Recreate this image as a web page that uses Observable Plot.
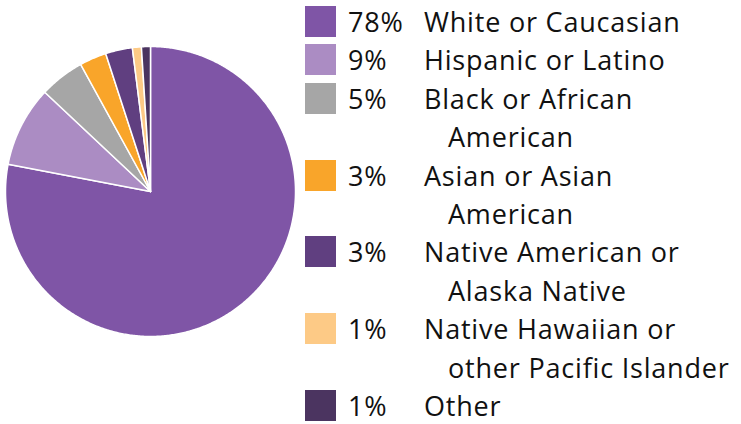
<!DOCTYPE html>
<html>
<head>
<meta charset="utf-8">
<script src="https://cdn.jsdelivr.net/npm/d3@7"></script>
<script src="https://cdn.jsdelivr.net/npm/@observablehq/plot@0.6"></script>
<style>
  html, body { margin: 0; padding: 0; background: #fff; }
  #wrap { position: relative; width: 741px; height: 424px; overflow: hidden; }
  #pie { position: absolute; left: 0; top: 0; }
  #legend { position: absolute; left: 305px; top: 3px; font-family: "Open Sans", sans-serif; font-size: 27px; letter-spacing: 0.8px; line-height: 38.4px; color: #111; }
  .row { display: flex; align-items: flex-start; }
  .sw { width: 31px; height: 31px; margin-top: 3px; flex: none; }
  .pct { width: 76px; margin-left: 12px; flex: none; }
  .lab { white-space: pre-line; padding-left: 24px; text-indent: -24px; }
</style>
</head>
<body>
<div id="wrap"><div id="pie"></div><div id="legend"></div></div>
<script>
const categories = ["White or Caucasian", "Hispanic or Latino", "Black or African\nAmerican", "Asian or Asian\nAmerican", "Native American or\nAlaska Native", "Native Hawaiian or\nother Pacific Islander", "Other"];
const percents = [78, 9, 5, 3, 3, 1, 1];
const percentLabels = ["78%", "9%", "5%", "3%", "3%", "1%", "1%"];
const colors = ["#7f55a6", "#ab8cc3", "#a6a6a6", "#f9a52a", "#603f80", "#fdca86", "#4b3460"];

const arcs = d3.pie().sort(null).value(d => d)(percents);
const points = [];
arcs.forEach((a, i) => {
  const cat = categories[i];
  points.push({cat, x: 0, y: 0});
  const n = Math.max(2, Math.ceil((a.endAngle - a.startAngle) / (Math.PI / 360)));
  for (let k = 0; k <= n; k++) {
    const t = a.startAngle + (a.endAngle - a.startAngle) * k / n;
    points.push({cat, x: Math.sin(t), y: Math.cos(t)});
  }
});

const chart = Plot.plot({
  width: 300,
  height: 424,
  marginLeft: 5,
  marginRight: 5,
  marginTop: 46,
  marginBottom: 88,
  x: {domain: [-1, 1], axis: null},
  y: {domain: [-1, 1], axis: null},
  color: {domain: categories, range: colors},
  marks: [
    Plot.line(points, {x: "x", y: "y", z: "cat", fill: "cat", stroke: "white", strokeWidth: 1.5, curve: "linear-closed"})
  ]
});
document.getElementById("pie").appendChild(chart);

const legend = document.getElementById("legend");
categories.forEach((c, i) => {
  const row = document.createElement("div");
  row.className = "row";
  const sw = document.createElement("div");
  sw.className = "sw";
  sw.style.background = colors[i];
  const p = document.createElement("div");
  p.className = "pct";
  p.textContent = percentLabels[i];
  const l = document.createElement("div");
  l.className = "lab";
  l.textContent = c;
  row.append(sw, p, l);
  legend.appendChild(row);
});
</script>
</body>
</html>
